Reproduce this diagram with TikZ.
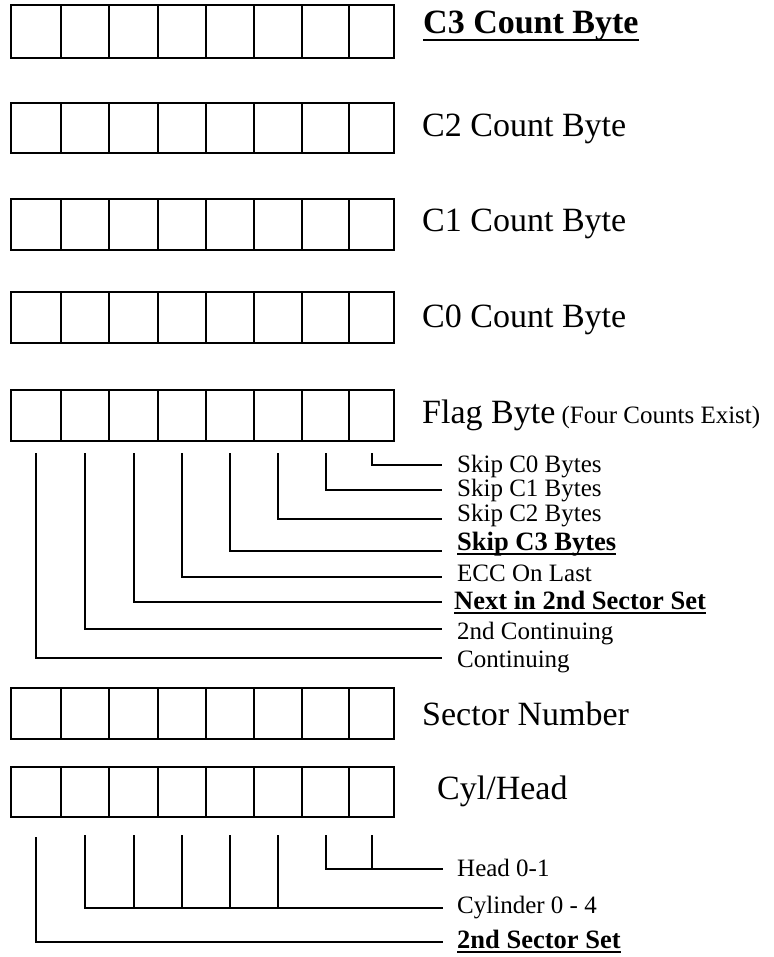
\documentclass[tikz,border=0pt]{standalone}
\usepackage{fontspec}
\setmainfont{Liberation Serif}
\newcommand\myul[1]{\setbox0=\hbox{#1}\rlap{\rule[-0.2em]{\wd0}{2pt}}\box0}
\begin{document}
\begin{tikzpicture}[x=1pt,y=-1pt,
  cell/.style={draw, line width=2.6pt, inner sep=0pt, outer sep=0pt},
  big/.style={font=\fontsize{34}{40}\selectfont, anchor=base west, inner sep=0pt},
  small/.style={font=\fontsize{25}{30}\selectfont, anchor=base west, inner sep=0pt},
  smallb/.style={font=\fontsize{26.5}{30}\selectfont\bfseries, anchor=base west, inner sep=0pt},
  conn/.style={line width=2pt}]
\useasboundingbox (0,0) rectangle (773,957);
% byte rows
\foreach \r/\t/\bt in {c3/5/58, c2/103/153, c1/199/250, c0/292/343, fl/390/441, sn/688/739, ch/767/817} {
  \foreach \a/\b [count=\i] in {11/61,61/109,109/158,158/206,206/254,254/302,302/349,349/394} {
    \pgfmathsetmacro\w{\b-\a}
    \pgfmathsetmacro\h{\bt-\t}
    \node[cell, minimum width=\w pt, minimum height=\h pt] (\r-\i) at ({(\a+\b)/2},{(\t+\bt)/2}) {};
  }
}
% row labels
\node[big] (lc3) at (423,34) {\myul{\textbf{C3 Count Byte}}};
\node[big] (lc2) at (422,137) {C2 Count Byte};
\node[big] (lc1) at (422,232) {C1 Count Byte};
\node[big] (lc0) at (422,327) {C0 Count Byte};
\node[big] (lfl) at (422,423) {Flag Byte\fontsize{25}{30}\selectfont{} (Four Counts Exist)};
\node[big] (lsn) at (422,725) {Sector Number};
\node[big] (lch) at (437,799) {Cyl/Head};
% flag byte bit connectors
\foreach \i/\y in {1/658, 2/629, 3/602, 4/577, 5/551, 6/519, 7/490, 8/465} {
  \coordinate (fe\i) at (442,\y);
  \draw[conn] ([yshift=-12pt]fl-\i.south) |- (fe\i);
}
\node[small] (s0) at (457,472) {Skip C0 Bytes};
\node[small] (s1) at (457,496) {Skip C1 Bytes};
\node[small] (s2) at (457,521) {Skip C2 Bytes};
\node[smallb] (s3) at (457,550) {\myul{Skip C3 Bytes}};
\node[small] (s4) at (457,581) {ECC On Last};
\node[smallb] (s5) at (454,609) {\myul{Next in 2nd Sector Set}};
\node[small] (s6) at (457,639) {2nd Continuing};
\node[small] (s7) at (457,667) {Continuing};
% cyl/head connectors
\coordinate (he) at (443,869);
\coordinate (ce) at (443,908);
\coordinate (se) at (443,942);
\draw[conn] ([yshift=-18pt]ch-7.south) |- (he);
\draw[conn] ([yshift=-18pt]ch-8.south) -- (ch-8.south |- he);
\draw[conn] ([yshift=-18pt]ch-2.south) |- (ce);
\foreach \i in {3,4,5,6} {
  \draw[conn] ([yshift=-18pt]ch-\i.south) -- (ch-\i.south |- ce);
}
\draw[conn] ([yshift=-20pt]ch-1.south) |- (se);
\node[small] (h0) at (457,876) {Head 0-1};
\node[small] (h1) at (457,913) {Cylinder 0 - 4};
\node[smallb] (h2) at (457,948) {\myul{2nd Sector Set}};
\end{tikzpicture}
\end{document}
